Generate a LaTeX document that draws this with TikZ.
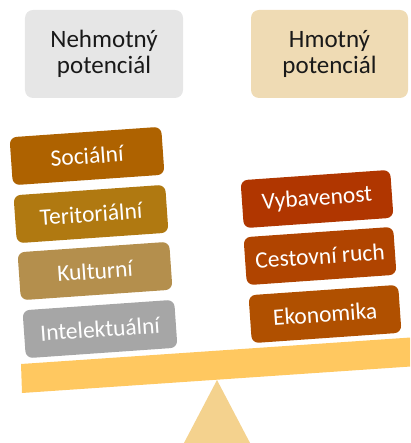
\documentclass[tikz,border=0pt]{standalone}
\usepackage{fontspec}
\setmainfont{Carlito}
\definecolor{headgray}{RGB}{230,230,230}
\definecolor{headtan}{RGB}{239,219,180}
\definecolor{soccol}{RGB}{174,98,0}
\definecolor{tercol}{RGB}{176,121,17}
\definecolor{kulcol}{RGB}{180,143,77}
\definecolor{intcol}{RGB}{166,166,166}
\definecolor{vybcol}{RGB}{176,54,0}
\definecolor{cescol}{RGB}{176,68,0}
\definecolor{ekocol}{RGB}{176,80,0}
\definecolor{beamcol}{RGB}{255,200,96}
\definecolor{footcol}{RGB}{244,210,142}
\tikzset{head/.style={rounded corners=8bp,align=center,inner sep=0pt,text=black!90,
  minimum height=88bp,font=\fontsize{25bp}{26.5bp}\selectfont}}
\tikzset{box/.style={rounded corners=7bp,inner sep=0pt,text=white,rotate=4,
  minimum width=152bp,minimum height=48bp,font=\fontsize{23.5bp}{26bp}\selectfont}}

\begin{document}
\begin{tikzpicture}[x=1bp,y=-1bp]
\useasboundingbox (0,0) rectangle (410,443);
\clip (0,0) rectangle (410,443);

\node [head,fill=headgray,minimum width=158bp] (nehm) at (104,54) {Nehmotný\\potenciál};
\node [head,fill=headtan,minimum width=157bp] (hmot) at (329.5,54) {Hmotný\\potenciál};

\node [box,fill=soccol] (soc) at (87,156) {Sociální};
\node [box,fill=tercol] (ter) at (91,214) {Teritoriální};
\node [box,fill=kulcol] (kul) at (95,271) {Kulturní};
\node [box,fill=intcol] (int) at (100,329) {Intelektuální};

\node [box,fill=vybcol,minimum width=150bp] (vyb) at (317,199) {Vybavenost};
\node [box,fill=cescol,minimum width=150bp] (ces) at (320,256) {Cestovní ruch};
\node [box,fill=ekocol,minimum width=150bp] (eko) at (325,314) {Ekonomika};

% vahy
\fill [footcol] (217,380) -- (260,462) -- (174,462) -- cycle;
\fill [beamcol] (21,364) -- (440,335.5) -- (440,364.5) -- (22,393) -- cycle;
\end{tikzpicture}
\end{document}
